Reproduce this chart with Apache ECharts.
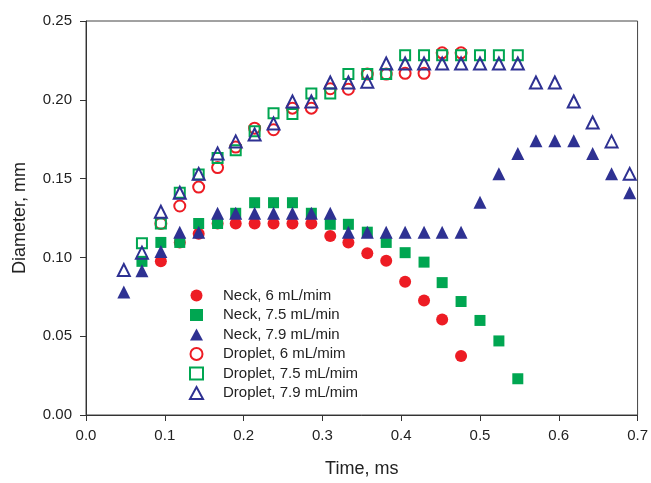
<!DOCTYPE html>
<html>
<head>
<meta charset="utf-8">
<script src="https://cdn.jsdelivr.net/npm/echarts@6/dist/echarts.min.js"></script>
<style>
  html, body { margin: 0; padding: 0; background: #fff; }
  #chart { width: 651px; height: 483px; }
</style>
</head>
<body>
<div id="chart"></div>
<script>
// time points, ms
var time = [0.048, 0.071, 0.095, 0.119, 0.143, 0.167, 0.190, 0.214, 0.238, 0.262,
  0.286, 0.310, 0.333, 0.357, 0.381, 0.405, 0.429, 0.452, 0.476, 0.500,
  0.524, 0.548, 0.571, 0.595, 0.619, 0.643, 0.667, 0.690]

// diameters, mm (null = no point)
var neck6 = [null, null, 0.0975, 0.1095, 0.115, 0.1215, 0.1215, 0.1215, 0.1215, 0.1215,
  0.1215, 0.1136, 0.1095, 0.1027, 0.0979, 0.0846, 0.0726, 0.0606, 0.0375]
var neck75 = [null, 0.0975, 0.1095, 0.1095, 0.1215, 0.1215, 0.128, 0.1347, 0.1347, 0.1347,
  0.128, 0.121, 0.121, 0.116, 0.1095, 0.103, 0.097, 0.084, 0.072, 0.060,
  0.047, 0.023]
var neck79 = [0.078, 0.0915, 0.1038, 0.116, 0.116, 0.128, 0.128, 0.128, 0.128, 0.128,
  0.128, 0.128, 0.116, 0.116, 0.116, 0.116, 0.116, 0.116, 0.116, 0.135,
  0.153, 0.166, 0.174, 0.174, 0.174, 0.166, 0.153, 0.141]
var drop6 = [null, null, 0.1215, 0.1326, 0.1446, 0.157, 0.170, 0.182, 0.181, 0.1947,
  0.1947, 0.207, 0.2067, 0.2163, 0.2163, 0.2168, 0.2168, 0.2298, 0.2298]
var drop75 = [null, 0.109, 0.1215, 0.141, 0.1526, 0.163, 0.168, 0.180, 0.1915, 0.191,
  0.204, 0.204, 0.2163, 0.2163, 0.2163, 0.2283, 0.2283, 0.2283, 0.2283, 0.2283,
  0.2283, 0.2283]
var drop79 = [0.092, 0.103, 0.129, 0.141, 0.153, 0.166, 0.1736, 0.178, 0.185, 0.1989,
  0.199, 0.211, 0.211, 0.2115, 0.223, 0.223, 0.223, 0.223, 0.223, 0.223,
  0.223, 0.223, 0.211, 0.211, 0.1989, 0.1856, 0.1736, 0.153]

var names = ['Neck, 6 mL/mim', 'Neck, 7.5 mL/min', 'Neck, 7.9 mL/min',
  'Droplet, 6 mL/mim', 'Droplet, 7.5 mL/mim', 'Droplet, 7.9 mL/mim']

var RED = '#ed1c24', GREEN = '#00a651', BLUE = '#2e3192'

function pts(vals) {
  var out = []
  for (var i = 0; i < vals.length; i++) {
    if (vals[i] != null) out.push([time[i], vals[i]])
  }
  return out
}

function filled(name, vals, symbol, size, color) {
  return {
    name: name, type: 'scatter', data: pts(vals),
    symbol: symbol, symbolSize: size,
    itemStyle: { color: color, opacity: 1 }
  }
}

function hollow(name, vals, symbol, size, color) {
  return {
    name: name, type: 'scatter', data: pts(vals),
    symbol: symbol, symbolSize: size,
    itemStyle: { color: 'rgba(255,255,255,0)', borderColor: color, borderWidth: 2, opacity: 1 }
  }
}

var font = 'Liberation Sans, Arial, sans-serif'
var chart = echarts.init(document.getElementById('chart'))

chart.setOption({
  animation: false,
  backgroundColor: '#fff',
  grid: {
    left: 86, right: 13, top: 21, bottom: 66,
    show: true, borderColor: '#444', borderWidth: 1
  },
  legend: {
    orient: 'vertical', left: 184, top: 283,
    itemWidth: 13, itemHeight: 12, itemGap: 4.5,
    textStyle: { fontFamily: font, fontSize: 15, lineHeight: 15, color: '#222', padding: [0, 0, 0, 15] },
    data: names
  },
  xAxis: {
    type: 'value', min: 0, max: 0.7, interval: 0.1,
    name: 'Time, ms', nameLocation: 'middle', nameGap: 45,
    nameTextStyle: { fontFamily: font, fontSize: 18, color: '#222' },
    axisLine: { lineStyle: { color: '#333', width: 1 } },
    axisTick: { show: true, inside: false, length: 6, lineStyle: { color: '#333' } },
    axisLabel: { fontFamily: font, fontSize: 15, color: '#222', margin: 13,
      formatter: function (v) { return v.toFixed(1) } },
    splitLine: { show: false }
  },
  yAxis: {
    type: 'value', min: 0, max: 0.25, interval: 0.05,
    name: 'Diameter, mm', nameLocation: 'middle', nameGap: 57,
    nameTextStyle: { fontFamily: font, fontSize: 18, color: '#222' },
    axisLine: { show: true, lineStyle: { color: '#333', width: 1 } },
    axisTick: { show: true, inside: false, length: 6, lineStyle: { color: '#333' } },
    axisLabel: { fontFamily: font, fontSize: 15, color: '#222', margin: 14,
      formatter: function (v) { return v.toFixed(2) } },
    splitLine: { show: false }
  },
  series: [
    filled(names[0], neck6, 'circle', 12, RED),
    filled(names[1], neck75, 'rect', 11, GREEN),
    filled(names[2], neck79, 'triangle', 13, BLUE),
    hollow(names[3], drop6, 'circle', 11, RED),
    hollow(names[4], drop75, 'rect', 10, GREEN),
    hollow(names[5], drop79, 'triangle', 12, BLUE)
  ]
})
</script>
</body>
</html>
